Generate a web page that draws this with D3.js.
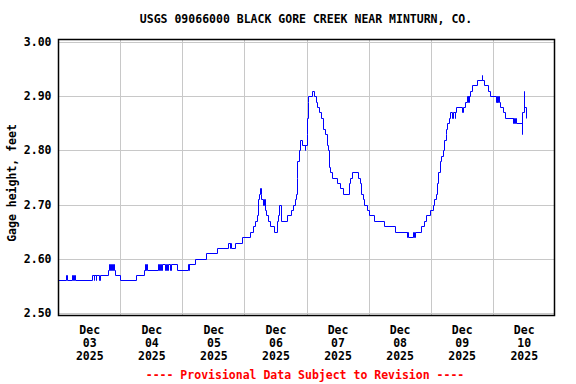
<!DOCTYPE html>
<html>
<head>
<meta charset="utf-8">
<script src="https://cdn.jsdelivr.net/npm/d3@7"></script>
<style>
  html, body { margin: 0; padding: 0; background: #fff; }
  svg { display: block; }
  text { font-family: "DejaVu Sans Mono", "Liberation Mono", monospace; font-weight: bold; font-size: 11.5px; }
</style>
</head>
<body>
<svg id="chart" width="576" height="384"></svg>
<script>
// ---------------- DATA ----------------
const chartTitle = "USGS 09066000 BLACK GORE CREEK NEAR MINTURN, CO.";
const yAxisTitle = "Gage height, feet";
const footerText = "---- Provisional Data Subject to Revision ----";
const startTime = "2025-12-03T00:00:00Z";
const endTime = "2025-12-11T00:00:00Z";

// hours since start (step changes of the 15-minute record)
const hoursFromStart = [
  0, 3.0, 3.5, 5.25, 5.75, 6.0, 6.5, 13.25, 13.75, 14.0, 14.5, 14.75, 15.75, 16.0,
  19.25, 19.5, 20.0, 20.25, 20.75, 21.25, 21.75, 22.0, 24.0, 30.25,
  33.25, 33.5, 33.75, 34.0, 34.25, 38.5, 39.0, 39.25, 39.75, 40.25, 41.25, 41.75,
  42.25, 42.5, 43.25, 43.5, 45.75, 50.0, 50.5, 50.75, 53.0, 57.0, 61.25,
  65.75, 66.25, 66.5, 66.75, 68.25, 71.0, 74.0, 75.5, 76.0, 77.0, 77.25, 77.75,
  78.0, 78.25, 78.5, 79.25, 79.5, 80.0, 80.5, 81.25, 82.0, 83.25, 84.5, 85.0,
  85.5, 86.0, 88.5, 90.0, 90.75, 91.5, 91.75, 92.25, 92.5, 93.0, 93.5, 94.25,
  95.25, 95.5, 96.0, 96.25, 96.5, 96.75, 98.0, 99.0, 99.5, 100.0, 100.75, 101.5,
  102.25, 103.25, 103.75, 104.25, 104.75, 105.0, 106.0, 107.75, 109.0, 110.0,
  112.25, 112.75, 113.5, 115.75, 116.5, 117.0, 117.75, 118.25, 119.25, 120.25,
  122.0, 126.0, 130.25, 134.75, 135.0, 135.25, 137.25, 137.5, 138.0, 140.25,
  141.5, 142.25, 143.75, 144.75, 145.25, 146.0, 146.5, 147.0, 147.5, 148.0,
  148.75, 149.25, 149.75, 150.0, 150.25, 151.0, 151.5, 152.25, 152.5, 153.25,
  153.5, 153.75, 156.0, 156.5, 157.25, 158.0, 158.25, 158.5, 158.75, 159.0,
  159.25, 160.0, 162.0, 163.75, 164.0, 164.5, 166.25, 167.0, 169.25, 169.5,
  169.75, 170.0, 170.25, 171.0, 172.0, 172.75, 175.75, 176.0, 176.25, 176.5,
  177.0, 179.25, 179.5, 180.0, 180.25, 180.75, 181.0
];
const gageHeight = [
  2.56, 2.57, 2.56, 2.57, 2.56, 2.57, 2.56, 2.57, 2.56, 2.57, 2.56, 2.57, 2.56, 2.57,
  2.58, 2.59, 2.58, 2.59, 2.58, 2.59, 2.58, 2.57, 2.56, 2.57,
  2.58, 2.59, 2.58, 2.59, 2.58, 2.59, 2.58, 2.59, 2.58, 2.59, 2.58, 2.59,
  2.58, 2.59, 2.58, 2.59, 2.58, 2.59, 2.58, 2.59, 2.60, 2.61, 2.62,
  2.63, 2.62, 2.63, 2.62, 2.63, 2.64, 2.65, 2.66, 2.67, 2.68, 2.71, 2.72,
  2.73, 2.72, 2.71, 2.70, 2.71, 2.69, 2.68, 2.67, 2.66, 2.65, 2.67, 2.68,
  2.70, 2.67, 2.68, 2.69, 2.70, 2.71, 2.72, 2.75, 2.78, 2.80, 2.82, 2.81,
  2.80, 2.81, 2.83, 2.86, 2.89, 2.90, 2.91, 2.90, 2.89, 2.88, 2.87, 2.86,
  2.84, 2.83, 2.81, 2.80, 2.77, 2.76, 2.75, 2.74, 2.73, 2.72,
  2.74, 2.75, 2.76, 2.75, 2.74, 2.72, 2.71, 2.70, 2.69, 2.68,
  2.67, 2.66, 2.65, 2.64, 2.65, 2.64, 2.65, 2.64, 2.65, 2.66,
  2.67, 2.68, 2.69, 2.70, 2.71, 2.72, 2.74, 2.76, 2.78, 2.79,
  2.80, 2.82, 2.83, 2.84, 2.85, 2.86, 2.87, 2.86, 2.87, 2.86,
  2.87, 2.88, 2.87, 2.88, 2.89, 2.90, 2.89, 2.90, 2.89, 2.90,
  2.91, 2.92, 2.93, 2.94, 2.93, 2.92, 2.91, 2.90, 2.89, 2.90,
  2.89, 2.90, 2.89, 2.88, 2.87, 2.86, 2.85, 2.86, 2.85, 2.86,
  2.85, 2.83, 2.87, 2.91, 2.88, 2.86, 2.86
];

const yTickValues = [2.50, 2.60, 2.70, 2.80, 2.90, 3.00];
const yDomain = [2.50, 3.00];
const dayLabelDates = ["2025-12-03", "2025-12-04", "2025-12-05", "2025-12-06",
                       "2025-12-07", "2025-12-08", "2025-12-09", "2025-12-10"];
const gridDates = ["2025-12-04", "2025-12-05", "2025-12-06", "2025-12-07",
                   "2025-12-08", "2025-12-09", "2025-12-10"];

// ---------------- LAYOUT ----------------
const frame = { left: 58.5, right: 554.5, top: 39.5, bottom: 315.5 };
const svg = d3.select("#chart");

const t0 = new Date(startTime);
const x = d3.scaleUtc()
  .domain([t0, new Date(endTime)])
  .range([58.2, 554.8]);
const y = d3.scaleLinear().domain(yDomain).range([313, 42]);
const px = v => Math.round(v) + 0.5;

const data = hoursFromStart.map((h, i) => ({
  t: new Date(t0.getTime() + h * 3600 * 1000),
  v: gageHeight[i]
}));

// Horizontal gridlines + y tick labels
const yAxis = svg.append("g")
  .attr("transform", `translate(${frame.left},0)`)
  .call(d3.axisLeft(y)
    .tickValues(yTickValues)
    .tickSize(-(frame.right - frame.left))
    .tickPadding(7)
    .tickFormat(d3.format(".2f")));
yAxis.select(".domain").remove();
yAxis.selectAll(".tick")
  .attr("transform", d => `translate(0,${px(y(d))})`);
yAxis.selectAll(".tick line")
  .attr("stroke", "#c8c8c8").attr("stroke-width", 1);
yAxis.selectAll(".tick text")
  .attr("fill", "#000")
  .style("font-family", '"DejaVu Sans Mono", monospace')
  .style("font-weight", "bold")
  .style("font-size", "11.5px");

// Vertical gridlines at midnight
const xGrid = svg.append("g")
  .attr("transform", `translate(0,${frame.bottom})`)
  .call(d3.axisBottom(x)
    .tickValues(gridDates.map(d => new Date(d + "T00:00:00Z")))
    .tickSize(-(frame.bottom - frame.top))
    .tickFormat(""));
xGrid.select(".domain").remove();
xGrid.selectAll(".tick")
  .attr("transform", d => `translate(${px(x(d))},0)`);
xGrid.selectAll(".tick line")
  .attr("stroke", "#c8c8c8").attr("stroke-width", 1);

// Day labels at noon
const fmtDay = d3.utcFormat("%d"), fmtMon = d3.utcFormat("%b"), fmtYear = d3.utcFormat("%Y");
const xLab = svg.append("g")
  .attr("transform", `translate(0,${frame.bottom})`)
  .call(d3.axisBottom(x)
    .tickValues(dayLabelDates.map(d => new Date(d + "T12:00:00Z")))
    .tickSize(0)
    .tickFormat(""));
xLab.select(".domain").remove();
xLab.selectAll(".tick").each(function(d) {
  const g = d3.select(this);
  g.selectAll("text").remove();
  [[fmtMon(d), 18.5], [fmtDay(d), 31.5], [fmtYear(d), 44.5]].forEach(([s, dy]) => {
    g.append("text").attr("y", dy).attr("text-anchor", "middle")
      .attr("fill", "#000").text(s);
  });
});

// Data line
svg.append("path")
  .datum(data)
  .attr("fill", "none")
  .attr("stroke", "#0000ff")
  .attr("stroke-width", 1)
  .attr("d", d3.line().x(d => px(x(d.t))).y(d => px(y(d.v))).curve(d3.curveStepAfter));

// Frame
svg.append("rect")
  .attr("x", frame.left).attr("y", frame.top)
  .attr("width", frame.right - frame.left).attr("height", frame.bottom - frame.top)
  .attr("fill", "none").attr("stroke", "#000").attr("stroke-width", 1.5);

// Title
svg.append("text").attr("x", 306).attr("y", 23).attr("text-anchor", "middle")
  .attr("fill", "#000").text(chartTitle);

// Y axis title
svg.append("text")
  .attr("transform", "translate(16,183) rotate(-90)")
  .attr("text-anchor", "middle").attr("fill", "#000").text(yAxisTitle);

// Footer
svg.append("text").attr("x", 305).attr("y", 379).attr("text-anchor", "middle")
  .attr("fill", "#ff0000").text(footerText);
</script>
</body>
</html>
